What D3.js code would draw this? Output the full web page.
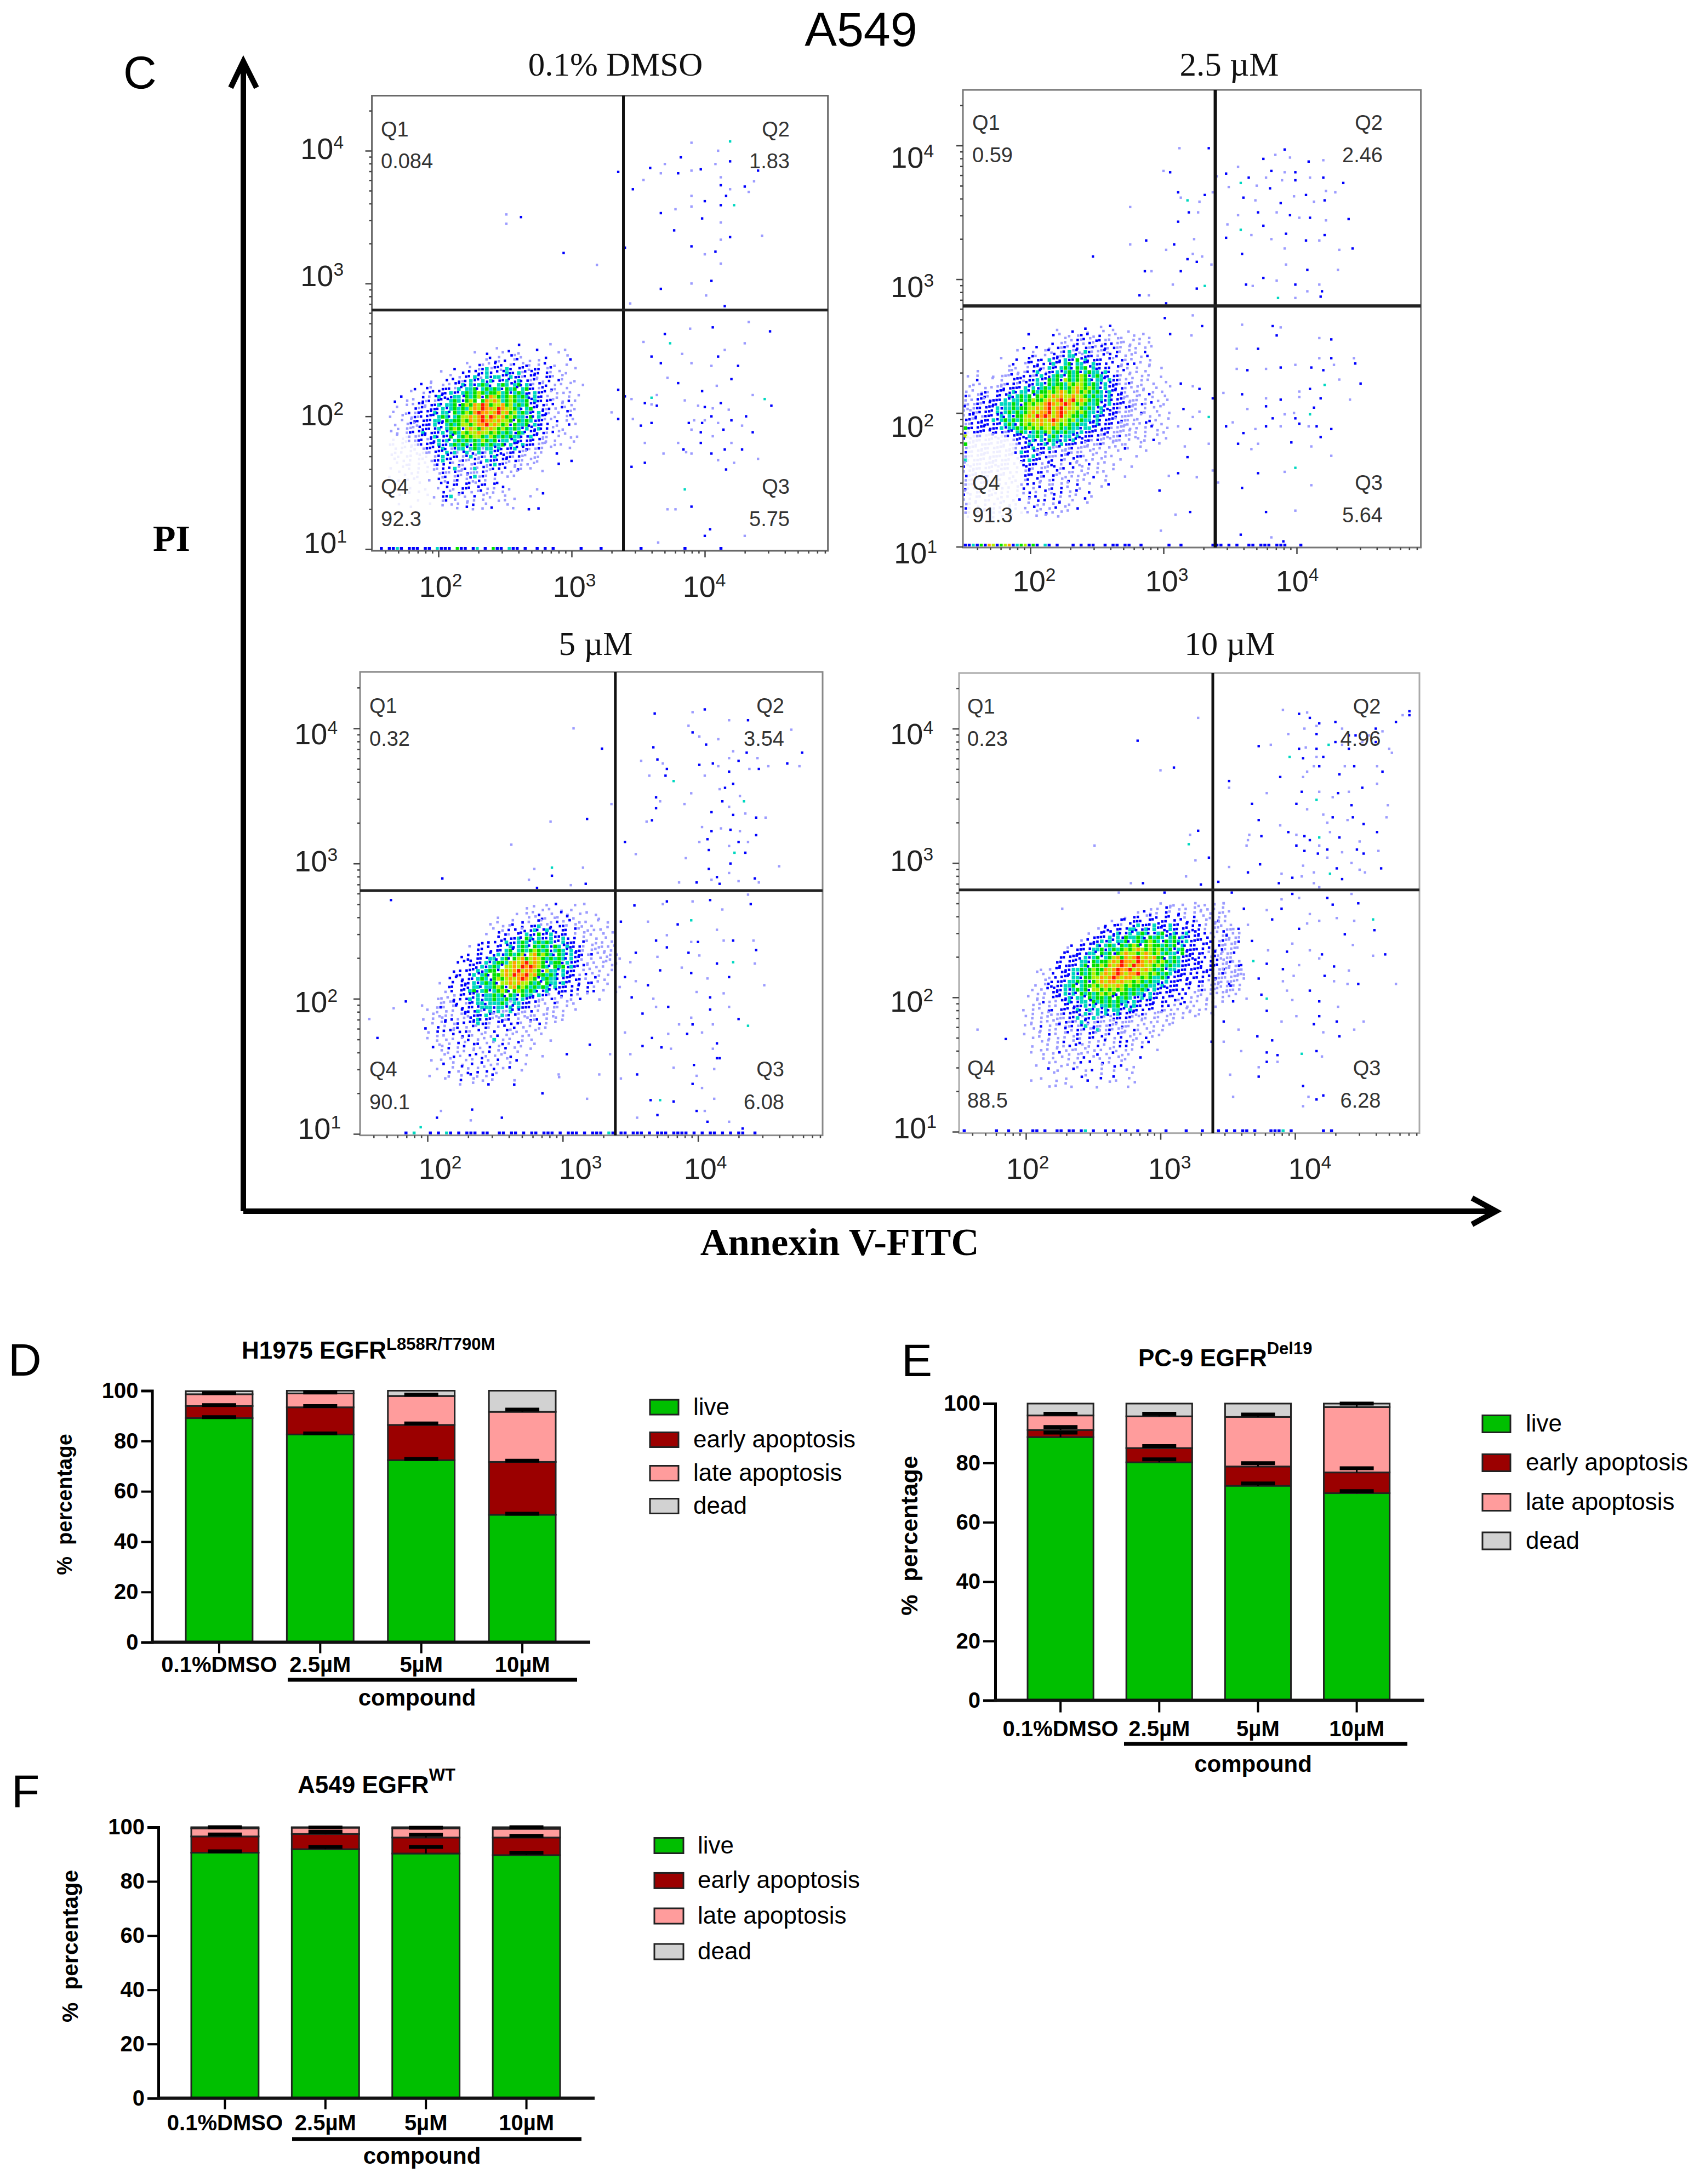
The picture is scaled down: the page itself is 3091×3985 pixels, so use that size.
<!DOCTYPE html>
<html lang="en">

<head>
    <meta charset="UTF-8">
    <title>A549 apoptosis</title>
    <style>
        body {
            margin: 0;
            background: #fff;
        }

        text {
            font-family: "Liberation Sans", Arial, sans-serif;
        }

        .serif {
            font-family: "Liberation Serif", "Times New Roman", serif;
        }
    </style>
</head>

<body>
    <svg id="fig" width="3091" height="3985"></svg>

    <script src="https://d3js.org/d3.v7.min.js"></script>
    <script>
        // ---- flow plots: values in log10 decades ----
        const gateAnnexin = 2449;
        const gatePI = 631;
        const quadNames = ["Q1", "Q2", "Q3", "Q4"];
        const flowTitles = ["0.1% DMSO", "2.5 µM", "5 µM", "10 µM"];
        const quadValues = [
            ["0.084", "1.83", "5.75", "92.3"],
            ["0.59", "2.46", "5.64", "91.3"],
            ["0.32", "3.54", "6.08", "90.1"],
            ["0.23", "4.96", "6.28", "88.5"]
        ];

        // density cells, one char per cell (. none, f faint, l pale, b blue, t teal, g green, y yellow, o orange, r red)
        const cellStep = 0.03;
        const gridStart = [[1.6, 2.55], [1.5, 2.65], [1.85, 2.7], [1.95, 2.7]];
        const gridA = [
            ".................................b.......l........",
            "............................l.........b......l....",
            "......................l..b...l.b.l.........l......",
            "..........................b.l..bl.l.....b....l....",
            ".........................l.bl.b.lb..l.l.......b...",
            "....................l..bl.lb.b.lb.lbl.l.b.l..l....",
            ".................b...l.lbtlbbltb.bb.lbb.lb.....l..",
            "..............l....b.bbbbtb.bbtbbtlbbbb.bl.l.l....",
            "................l.l.bbtbltbttbbtbblbbbl.bbl.l......",
            "...........l...b.bblbtbbtbtbbbtbbtbblbll.b.bl..l..",
            ".........b.l..l.lbbtbtbtgtb.tgtbtgbtblblb.l.l.l..l",
            ".......b..bl..bbbltbttgbtgtgtbgtgbtgbblb.bl..l....",
            "......l..l.bbbbbtbbtgtgygtggytgbtgtbbtbbbl.ll.l...",
            "....b....b.lbtbbbttbgtgybgoygtgygtgtbtbbl..l..l.l.",
            "..b..l.l.blblbbbtgtbgyg.goyoytgygttgbtbbbbl.l.bl..",
            ".....l.lbblbbtbttgbgygoyrogyyogytgtgbbbbl.b.l.l...",
            "...l...blblbbbtbtgtgtyoyrooyroyygtbtgbbblbl.bl.l..",
            "..l..lblbbbbtbttbgtgygorooyoryogytgtbbtbbl.l.bl...",
            ".l..l.lblbbbbtgtbtgyyoyoryroyogygttbgbtbb.l..lb...",
            "....l.lbbbbbttbgtggygoyorooyoyygbgtgtbbbll.b.l.l..",
            "..l..lbllbbbtbbtgtgyygyooryoygybgttgbtbbb..l..bl..",
            "...l.lllbbbbbtbtgygbyoygoyoygygtgtbtbbtbb.l.l.....",
            ".l.l.lbbbtbbbbtbtgtygyyoyygygtgtbgtbbbbbl.bl.l....",
            "...l.flllbbbtbbbgbtgygyygtygtgtgttbbtbbll..l..l.l.",
            "..f.ffllbblbbtbtbtgtgtgtygtgbttbtbbbbbbll.l....l..",
            ".ff.f.fflbbbbtbbtgtgtbgtgtgttgbtbbtbbblll.l.l.....",
            "..f.ffff.lbbbbtblbttbtgtlttbtbbbtbbbllbl.l....l...",
            "..f.f.f.ffllbbbtbtlbtlbtbltbbblbbbll.l.l...b......",
            ".f.f.ff.f.f.lbtb.bblbtllblbtbbbblbll.ll...........",
            "..f.f.f.ff.lbbtbb.lbllblltbbbbblbll.l.l.......b...",
            "...f.ff.f.f.lbb.blbl.lblblbtbbl.l.ll.l.....b......",
            ".f..f.f.f.f.llb.btllbltlbllbb.b.lbl.l.............",
            "...f..f.f.f..lbllbllblllbl.l.l.l.l.....l......",
            ".f...f..f.....lb.lbllbtlbl.b..l.l.............",
            "...f.f.f...l.b.l.lb.l.lb.l.l...................",
            "........f.....bb.bb.bbl.bb.bb..................",
            "...f..f...f..l.b.l.bbb.b.l.l.b.l......l.......",
            "......f.f.....b.l.bb.l.lbl.l.l.........b......",
            "...f......f.l.bbt.l.l.b.l.l...l.....l.........",
            "........f.....lb.l..l.l.l...l.l.l.............",
            "...f.......f..l.l.l.l.b..l....l...............",
            "......f...........l.b.l.l.b.....l...b.b......."
        ];
        const gridB = [
            "..............................b...l.b..............",
            ".......................l...b...l...l.l...l........",
            "................b.....b.l.l.lb.bl.b.l.l...l..l....",
            ".........................l.lblbl.bbll.ll..l.l.l...",
            "......................b.ll.lb.lbl.lb.bllll..l.l...",
            "...............b..b..l.blblbb.blblbblbll.l.l.l.l..",
            ".............l...l..lbl.lbtlbltblllbl.bl.l.l.b....",
            ".................bl.l.bblbttblbbbl.bb.b.l.l.l.b...",
            ".........l...b..b.bb.tbbbtbbgbtbbbb.bl.bl.l...l...",
            "............b..lbbb.bbtbbtgbttbbtbbb.b.l.bb.l.l...",
            "...........l.l..lbbbltbbtgtbgtgbtbbbb.bl.l.l..l..l",
            "...l.......lll.lbbtblbbtbtgtgbtgttbtb.l.bl.l.l....",
            ".l.l...l.lllbl.bblbtbbtgtbgtgygbtgtbbbbl.l..l.l..l.",
            "...b...l.l..bbblbbtbbgtgbygtgygtbttbtbbll.l.l.l....",
            "..l.l....llbblbbbbttbgtggtygyygtgtbtbbbllbl.l..l..l.",
            ".l...l.lllbbbbbtbtbtgtgygtgyoygygtbtbbbbl.ll.l..l...",
            "l.l.lbl.bbbbtbttbgtggygyoygyogygtgtbtbbbl.ll.l.l.l..",
            "bl.lbbl.bbbtbtgtgbgygyoyoyyoyygtgttbtbbbll.ll.bl..l.",
            "l.lbblbbbbtbttgtgyggyoyoryoryoygtgtbtbbbllll.l..l..l",
            "lllblbbbbtttgtbgygyyoroyoroygygttgbbtbbbblllbl.b..l.",
            "bllbbbbbtbttgtggyyoyoryoryoyygtgtbtbbbblbbll.l.l.l..",
            "llblbbbbtbtgtgtgyoyooryoroyygygttbtbbbbllll.bl..l..l",
            "lbbblbbbbtbtbggyoyroroyoryyggtgtbtbbbbbllll.l.l..l..",
            "bblbbbbtbtgtgtgyyoyoyoroyygytgttbtbbbblbllll..b.l..l",
            "llbbbbbbbbtgtbgygyyoyyoygygtgttbbtbbbbbllll.lb.l.l..",
            "gbbbbbbbbtbttgtgygygyygygtgttbttbbbbblllll.l.l.b...l",
            "bfbbbbbbbblbbtgtbtgtgytgtgttbtbbbbblblllll.l.l..l.l.",
            "yffllfflfflbbbbbttgtbtgtbttbtbbbbblblllbll.l.l..l...",
            "bffffffffffflbbbbtbtbgttbtbtbbbblbllllll.l.l.l.b..l.",
            "gfffffffffffflbbtbbbtbtbtbbbbbllllbl.l.ll...l....l..",
            "lfffffffffffflbbbtbbbtllbllblllll.l.l.l.bl..l.......",
            "bffffffffffffbtbbblbbblbllblll.l.l.l..l......l....",
            "lffffffffffff.bbbtblblllblb.bbl.l..l.l.....l......",
            "tfffffffffff.fbbtbbb.lb.bl.bl.l.l.l....l..........",
            "lffffffffffff.fbbbbl.bb.l.b.ll.b.l.l.l............",
            "bfffffffffff.f.bbl.lllb.lb.b.l.l.l...l....l.......",
            "lffffffff.ff.f.lb.bb.l.bl.ll.l.l.l.l..............",
            "bffffff.fff.f..bbb.lb.bl.l.ll.l.b..l....l.........",
            "lffff.ffff.f.f.lb.bl.lb.l.b.l.l....l..............",
            "lff.ffff.ff.f.l.bb.l.ll.l.l.b..l....b.............",
            "bff.ff.fff.f.f.b.l.b.lb.b.l..l....l...............",
            "lf.ff.f.ff.f.f.lb.l.b.l.b.l.b..b..................",
            "bf.ff.ff.f.f.f..b.b.l.b.l.l.l...l.................",
            "lf.f.ff.f.f.f.b.l.b.b.b.l..l..b...................",
            "lf.f.f.f.f.f.f..l.l.l.l.b.l....l..................",
            "bf.f.f.f.f.f.f.l.b.l.l.b.l..b.....................",
            "lf.f.f.f.f.f..f.l.l.b.l.l.l.......................",
            ".f..f..f.f..f.....l.l..l..........................."
        ];
        const gridC = [
            "...............................l..l.b....l.l......",
            ".............................l...l.l..l.l..........",
            "...........................l.l.lb..l..bl..l.l.l....",
            "......................l.......ll.bl.ll.b.l.....l...",
            "......................l...l.b.l.bl.l.bl.b.l.l..l.l.",
            "....................l..l.lb.b.bbtllb.bbl.l.l.l...l..",
            ".....................l.l.bb.lbbtbbtbb.bb.bl.l.ll....",
            "...................l..b.bl.bbtbbgbbtb.bb.l.l.l..l.l.",
            "......................b.bbbtbgtbtbbtbbtb.b.l..l..l..",
            "..................b.bb.btbbtgtbtgtgtbbtbbb.bl.l.l.l..",
            "...............l.b..b.bbbtbtgtbgtgtbgtbtbbbl.l.lll.l.",
            ".................bb.b.bbtgbtgtgygtgbtgtbtbbl.ll.l.l..",
            "...............b.bb.bbtbtgtgybyogygtbgtbtbbblb.ll.ll.",
            ".............b.b.bbbttbtgbgyogyoygtgtgtbtbbl.l.l.ll.l",
            "............b.bb.bbtbtggtyoyoryoygbtggbtbbb.l.l.ll.l.",
            "...............bbbtbtgtbyyoyroroygtbgtgbtbbbl.l.l.l..",
            "...........b.bbbbtbtggbyoyoryooygbyttbtbbb.l.l.l..l..",
            "............bb.btbtgbggyoyrooryoggtgtbtbbbl.bl.l.l...",
            "..........b.bb.bbtgtbgygyoyoroygbtgttbbbbbb.l.b.l....",
            "........l..b.bbbtbtgtgbyyoyoyygtgbgttbtbb.b.bb.l.l...",
            "..........bb.bbbttbttgygbyogygtgtgtbtbbbb.b.b.l.....l",
            ".........l.b.bbtgbtgbtgygbgygtgtbbtbbbbbb.b.b.b.l..l.",
            "...........l.bbbbtbttgtgbgtbgttbtbbl.bb.b.l.l........",
            ".......ll.lb.bbtbtbttgttgttbtbbbll.bl.l.l.b....l....",
            "........lllbb.lbbttbtttgtlttbbbbl.l.bl.l.l..........",
            ".......lbl.lbb.bbbtttbttbtbtbbbll.l.ll.l............",
            ".....l.l.l.l.bbbbtlbtbtlltbbllb.l.l.l.l..l..........",
            "......l.ll.l.lblbbbtblltlbbl.lll.ll.l.l.............",
            "....l.l.lb.bl.lbbtbbbllblb.l.lblb.l.l.l.............",
            "......l.lb.lb.bbbtbbl.bb.b.bl.l.b.l.l...............",
            "....b..b.l.lb.l.bl.bl.l.b.b.l.l.l.l.................",
            ".....l.b.bbl.bbl.b.l.b..bl.l.l.l....................",
            ".......l.l.b.b.bl.l.l.b.l.l.l.l..l..................",
            ".....l.l.l.l.l.b.l.l.t.l.l..l.l....l................",
            "........l.l.b.l.bb.l.l.b.l.b...l....................",
            "......b.l.b.l.b.l.l.b.l.b.l.l.l.....................",
            "........l.l.l.l.l.l.b.l.l..l........................",
            ".........l.b.l.b.b.l.l.l.b...l...l..................",
            "......l.l.l...l.l.b.l.b.l..b........................",
            ".........b.l.l..b.b.l.l..l...l......................",
            ".......l...l.b.l.l.l.b.l.b..........................",
            "..........b.l..b.b.b..l.....l.......................",
            ".....l....l..l.b.l.l.b...............l..............",
            ".........l...b..l.l..l....l.........................",
            ".............l..l...b.....b........................."
        ];
        const gridD = [
            "...................................l.ll.l..ll.l.l.l...",
            "................................l.l.bl.l.l.l.ll.l.l...",
            ".............................l.bl.l.bl.b.l.l.l.l.ll.l.",
            "..........................l.bb.lb.b.bb.b.l.b.l.l.l.l..",
            ".......................l.bb.bbb.bb.bb.b.bb.bl.l.ll.l..",
            ".....................b.bbl.bbtbbbtbbbtbb.b.bb.l.l.l.l.",
            "...................l.bb.bbbttbbtbtbbbtbbbb.bb.l.ll.lll.",
            ".................l..bbbbtbbtbtgtbbtgbbtbbtbbb.bl.lbl.ll",
            "..................bbbbtbtbgttgtbgtgtbtgbtbbbb.b.l.lblll",
            "...............l.bbbtbtbttgbtgtgygtbgtgtbtbbbb.b.lblllb",
            ".............b.bbbbtbtgtbgtgygbgyggtgtgbtbbb.bb.lbllll",
            "............l.bbbbttgbtgtgygyoygygygtgbtgbbbbb.bl.bllll",
            "...........bb.bbbttbgtgbgyoyygyoygytgttbgbbbbb.lb.lllb.",
            "..........bbbbbbtbtgbtgyogoyoryoyoggbtgtbbbbb.blbllll.",
            ".........bb.bbbttbgtggyoyrooyroyoygygtgtbbbbbb.b.bllbll.",
            "..........bbbbbtgbggygoyoroyrooyygygtgttbbbbbb.bbbllllb.",
            ".....l.l.bbbbttgtgyggoyorooryoyoygtgbttbbbbbbbbbllllllll",
            "....l.l.b.bbbtbgtgygyoyoroyooryygygtgtbbbbb.bbb.blblllll.",
            ".......l.bbbbttbggyyoyoroyooyygygttgtbbbbb.bbb.bblllllll",
            "......l.bbbbttgtgbgyoyooyoyygygtgttbtbbbbbb.bb.llllllll.",
            "....l.lbbbbttgbtggygyoyyoygyggtgttbtbbbb.bb.bl.lllllbll.",
            "...l.l.bbbbtbtgtgbyygygygygtgtgtbtbbbbbbb.b.lbllll.llll",
            "....l.l.bbbtbtbgtgtgygygbggtgttbtbbbbb.b.b.l.l.l.lll.l.",
            "..l.l.l.bbbbtbttbgtggtgbgtgtbbtbtbbb.bb.b.l.l.l.l.l.l..",
            "....l.bl.lbbtbbttbgtgtgtgttbtbbbbb.bb.bl.bl.l.l.l.l....",
            "...l.l.l.l.bbbbbtbtbttgtgbtbtbbbbb.b.bl.bl.l..l.l......",
            ".l.l.l.bb.bbbbtbbtbtbtbttbbtbbb.bb.bll.l.ll.l.l........",
            "...l.l.llllbbbbbtbltbtbbtbbbblbl.lll.ll.l.l.l..l.......",
            ".l.l.l.l.lllbbtlbbtlbllbbbbbllll.ll.l.l.l..l...........",
            "...l.l.ll.lblbltbblbllllbllll.l.l.l.l.l..............",
            ".l.l.b.l.lbllblbtlblllbllbll.l.l.l.l.l...............",
            "...l.l.l.l.b.lblblbtllbllll.bl.l.l.l.................",
            ".l...l.b.l.lb.bl.bbl.lb.bll.l.l.l.l..................",
            "...l.l.l.l.l.lbl.bb.bl.l.b.l.l.b.l...................",
            ".....l.l.l.b.l.b.l.l.b.l.bb.l.l.b....................",
            "...l...l.l.lb.bl.l.b.l.l.bb.l.b......................",
            ".....l.l.l.l.ll.l.l.l.l.l.l.l.....l..................",
            "...l..l.l.b.l.ll.l.b.l.b.l.l.........................",
            "......l.l.l.l.l.b.l.l.l.l.l...b......................",
            ".......l.l...l.b.b..b.l..l...........................",
            "....l.....l.l.l.....l..b.b..l........................",
            ".......b.l...b..l.b.l..l..l..........................",
            "........l.......l...l.......l.......................l",
            ".....l.....l...b....b..b...l..........................",
            "...l.....l.l.....b....l.l...l.........................",
            ".......l.l...l.....l.......l.........................."
        ];

        // events piled on the bottom edge, cells from log 1.5
        const edgeA = "..b.bbtb.bbb.bb.tbbb.gbb.bt.b.gbb.tbb.b..b.b.b......b....b.........b..........b........b.....";
        const edgeB = "bbtbgboybgyobtgybgb.tb.b...b.b.bb..b.bb.bb..b......b..b.......bbb.b.b..bb.bbb.bbb...b";
        const edgeC = "...........b.t...b.b.tb.b.bbb.bb..bb.bb.b.bb.bbb.b.bbb.b.bbb.tb.bb.bbb.b.bbb.bbbb.b.b.bb.b.b.bb..b";
        const edgeD = ".b.......b..b..b..bb.b..bb.bb.bt.b..b.b..b..b..b...b....b...b...b.b.b.bb.b...bbbt.b.......b.b";

        // scattered events [log annexin, log PI]
        const ptsA = [[2.51, 3.52], [2.62, 3.5], [2.51, 3.45], [2.94, 3.23], [3.19, 3.14], [3.35, 3.84], [3.9, 4.06], [4.19, 4.07], [4.1, 4], [3.82, 3.95], [3.7, 3.9], [3.59, 3.87], [3.54, 3.78], [3.46, 3.71], [3.67, 3.83], [3.8, 3.83], [3.9, 3.85], [3.97, 3.86], [4.08, 3.9], [4.19, 3.92], [4.12, 3.8], [4.12, 3.74], [4.19, 3.71], [4.3, 3.73], [4.33, 3.69], [4.4, 3.85], [4.37, 3.77], [4.16, 3.66], [3.9, 3.66], [4, 3.62], [4.22, 3.59], [4.12, 3.59], [3.9, 3.58], [3.67, 3.53], [3.78, 3.56], [3.98, 3.49], [4.12, 3.46], [3.77, 3.4], [4.12, 3.33], [4.19, 3.35], [4.43, 3.36], [3.9, 3.28], [4, 3.22], [4.08, 3.24], [4.12, 3.15], [4.05, 3.02], [3.9, 3], [3.67, 2.96], [4.01, 2.91], [4.15, 2.83], [3.44, 2.85], [3.4, 3.27], [3.54, 2.56], [3.74, 2.55], [3.89, 2.66], [4.06, 2.67], [4.33, 2.71], [4.49, 2.64], [3.83, 2.47], [3.67, 2.4], [4.05, 2.38], [4.25, 2.38], [3.72, 2.29], [3.98, 2.19], [4.09, 2.23], [4.2, 2.28], [4.36, 2.16], [3.55, 2.1], [3.6, 2.09], [3.64, 2.08], [3.95, 2.08], [4, 2.07], [4.06, 2.06], [4.12, 2.1], [4.18, 2.05], [4.31, 2], [4.45, 2.13], [4.5, 2.08], [3.46, 1.98], [3.52, 1.93], [3.9, 1.9], [3.97, 1.88], [4.06, 1.85], [4.14, 1.9], [4.2, 1.8], [3.97, 1.8], [3.86, 1.73], [4.15, 1.75], [4.22, 1.65], [4.16, 1.6], [3.69, 1.72], [3.45, 1.62], [3.72, 1.3], [3.9, 1.32], [3.78, 1.3], [4.04, 1.15], [3.65, 1.05], [3.4, 2.15], [3.45, 2.13], [3.6, 2.14], [3.64, 2.16], [3.8, 2.25], [3.85, 2.12], [3.88, 1.95], [3.92, 1.97], [3.98, 1.95], [4, 1.97], [4.05, 2], [4.1, 1.95], [4.2, 1.97], [4.28, 1.93], [4.36, 1.88], [3.55, 1.8], [3.6, 1.95], [3.8, 1.8], [3.84, 1.75], [3.9, 1.72], [4.05, 1.72], [4.1, 1.67], [4.28, 1.75], [4.4, 1.68], [3.55, 1.65], [3.85, 1.45], [4, 1.1], [4.3, 1.1], [3.6, 2.45], [3.9, 2.4], [4.1, 2.45], [4.3, 2.55], [3.7, 2.62], [4.15, 2.5], [3.35, 2.2], [3.3, 2.03], [3.35, 1.98]];
        const ptsB = [[3.12, 3.98], [3.34, 3.98], [3, 3.81], [3.05, 3.8], [2.75, 3.54], [3.11, 3.65], [3.13, 3.61], [3.18, 3.59], [3.27, 3.58], [3.31, 3.63], [3.37, 3.65], [3.19, 3.5], [3.26, 3.5], [3.11, 3.43], [2.75, 3.26], [2.87, 3.29], [3.02, 3.22], [3.08, 3.26], [3.23, 3.3], [2.47, 3.17], [3.22, 3.19], [3.18, 3.15], [3.29, 3.17], [3.25, 3.13], [3.36, 3.11], [2.86, 3.06], [2.91, 3.06], [3.13, 3.06], [3.07, 2.96], [3.25, 2.93], [3.31, 2.95], [2.82, 2.88], [2.89, 2.88], [3.02, 2.82], [3.56, 3.84], [3.47, 3.79], [3.4, 3.77], [3.75, 3.9], [3.84, 3.93], [3.91, 3.97], [3.95, 3.91], [4.09, 3.88], [4.2, 3.89], [3.81, 3.81], [3.91, 3.8], [3.99, 3.8], [3.89, 3.74], [3.64, 3.76], [3.77, 3.76], [3.99, 3.74], [4.1, 3.76], [4.2, 3.76], [3.49, 3.69], [3.58, 3.72], [3.7, 3.7], [3.8, 3.68], [3.98, 3.62], [4.07, 3.63], [4.22, 3.66], [4.35, 3.72], [4.29, 3.65], [3.6, 3.61], [3.69, 3.59], [3.88, 3.57], [4.13, 3.58], [4.21, 3.59], [3.56, 3.48], [3.71, 3.5], [3.85, 3.5], [3.95, 3.48], [4.02, 3.46], [4.1, 3.46], [4.22, 3.44], [4.39, 3.45], [3.48, 3.41], [3.75, 3.4], [3.58, 3.37], [3.92, 3.34], [3.66, 3.33], [3.47, 3.31], [3.81, 3.3], [4.07, 3.29], [4.17, 3.29], [4.21, 3.33], [3.91, 3.23], [4.42, 3.23], [4.32, 3.22], [3.59, 3.19], [3.92, 3.11], [4.08, 3.07], [4.31, 3.07], [3.75, 3.01], [3.85, 2.99], [3.62, 2.96], [3.67, 2.95], [3.99, 2.96], [4.17, 2.96], [4.19, 2.91], [4.08, 2.91], [3.86, 2.86], [3.99, 2.86], [4.18, 2.87], [3.59, 2.66], [3.82, 2.65], [3.88, 2.64], [3.85, 2.58], [4.17, 2.56], [4.26, 2.55], [3.55, 2.48], [3.71, 2.48], [4.17, 2.41], [4.26, 2.41], [4.43, 2.41], [4.44, 2.37], [3.55, 2.33], [3.63, 2.32], [3.77, 2.33], [3.88, 2.34], [3.99, 2.36], [4.11, 2.34], [4.28, 2.36], [4.2, 2.32], [4.21, 2.21], [4.48, 2.22], [3.45, 2.15], [3.59, 2.14], [3.77, 2.11], [3.88, 2.1], [4.02, 2.12], [4.18, 2.11], [4.4, 2.1], [4.13, 2.04], [3.98, 2], [3.77, 2.05], [3.63, 2.03], [3.82, 1.96], [4.09, 1.9], [4.26, 1.88], [3.91, 1.99], [3.56, 1.77], [3.66, 1.73], [3.96, 1.78], [4.11, 1.75], [4.18, 1.82], [4.26, 1.68], [3.99, 1.59], [3.91, 1.56], [3.71, 1.55], [3.41, 1.48], [3.59, 1.44], [4.11, 1.46], [3.77, 1.26], [3.99, 1.27], [3.58, 1.09], [3.81, 1.07], [3.9, 1.04], [3.69, 1.88], [3.77, 1.9], [3.88, 1.9], [4.02, 1.92], [4.02, 2.16], [4.1, 2.18], [4.32, 2.25], [3.47, 1.9], [3.52, 1.93], [3.6, 1.85], [3.71, 1.77], [3.99, 1.96], [4.1, 1.99], [4.15, 1.9], [3.05, 2.2], [3.13, 2.22], [3.22, 2.2], [3.27, 2.18], [3.22, 1.97], [3.2, 1.88], [3.16, 1.75], [3.18, 1.67], [3.25, 1.52], [3.11, 1.55], [3.04, 1.53], [2.97, 1.42], [3.09, 1.24], [3.2, 1.26], [2.98, 1.12], [3.29, 2.65], [3.21, 2.58], [3.05, 2.59], [3.22, 2.73], [3.01, 2.71], [3.11, 1.9], [3.34, 1.97], [3.34, 1.77], [3.15, 2.03], [3.27, 2.01], [3.37, 2.11], [3.37, 1.57]];
        const ptsC = [[3.08, 4], [3.29, 3.85], [2.91, 3.31], [3.18, 3.33], [2.62, 3.14], [2.11, 2.89], [2.79, 2.96], [2.92, 2.97], [3.15, 2.97], [2.92, 2.91], [2.75, 2.88], [2.81, 2.82], [3.06, 2.84], [3.17, 2.85], [3.36, 3.44], [3.68, 4.11], [3.96, 4.12], [4.05, 4.14], [3.93, 4.02], [3.96, 3.97], [4.01, 3.94], [4.06, 3.88], [4.15, 3.92], [3.67, 3.86], [3.58, 3.76], [3.7, 3.77], [3.74, 3.74], [3.77, 3.7], [3.64, 3.65], [3.76, 3.65], [3.82, 3.61], [4.01, 3.73], [4.05, 3.65], [4.11, 3.74], [4.15, 3.72], [4.23, 3.68], [4.38, 3.7], [4.45, 3.7], [4.52, 3.72], [4.66, 3.74], [4.75, 3.72], [4.77, 3.82], [4.69, 3.99], [4.26, 3.59], [4.16, 3.55], [4.2, 3.56], [3.95, 3.52], [3.69, 3.49], [3.72, 3.46], [3.69, 3.41], [3.9, 3.44], [4.18, 3.46], [4.31, 3.5], [4.34, 3.46], [4.23, 3.42], [4.1, 3.38], [4.35, 3.37], [4.43, 3.34], [4.5, 3.34], [4.26, 3.36], [3.62, 3.31], [3.66, 3.32], [4.03, 3.27], [4.1, 3.24], [4.17, 3.26], [4.24, 3.25], [4.31, 3.24], [4.43, 3.21], [4.01, 3.16], [4.07, 3.18], [4.23, 3.13], [4.3, 3.16], [4.37, 3.16], [3.46, 3.16], [3.54, 3.07], [4.08, 3.1], [4.27, 3.08], [4.35, 3.08], [3.91, 3.04], [4.24, 3], [4.6, 2.98], [4.08, 2.96], [4.23, 2.93], [4.14, 2.9], [4.3, 2.87], [4.42, 2.89], [3.86, 2.86], [3.99, 2.86], [4.1, 2.88], [4.16, 2.85], [4.45, 2.86], [3.53, 2.69], [3.74, 2.7], [3.77, 2.72], [3.96, 2.72], [4.09, 2.73], [4.18, 2.66], [4.39, 2.7], [4.37, 2.77], [3.95, 2.58], [3.63, 2.57], [3.85, 2.55], [4.14, 2.51], [3.43, 2.57], [3.77, 2.47], [3.69, 2.43], [3.95, 2.42], [4, 2.42], [4.19, 2.43], [4.26, 2.43], [4.41, 2.43], [3.77, 2.38], [3.7, 2.31], [3.93, 2.34], [4.01, 2.32], [4.43, 2.36], [4.42, 2.26], [3.54, 2.34], [3.5, 2.27], [3.72, 2.21], [3.88, 2.23], [4.14, 2.26], [4.26, 2.27], [3.46, 2.16], [3.54, 2.13], [3.95, 2.19], [4.07, 2.15], [4.23, 2.16], [4.49, 2.1], [3.63, 2.1], [3.99, 2.05], [3.51, 2.01], [3.67, 2], [4.09, 2.01], [4.19, 2.04], [3.78, 1.94], [3.69, 1.94], [4.09, 1.92], [4.23, 1.94], [3.59, 1.89], [3.95, 1.86], [4.3, 1.85], [3.86, 1.81], [3.96, 1.81], [4.11, 1.81], [4.37, 1.8], [3.46, 1.75], [3.66, 1.71], [3.78, 1.74], [3.92, 1.74], [4.03, 1.75], [3.73, 1.64], [3.8, 1.63], [4.14, 1.67], [4.11, 1.63], [3.59, 1.65], [3.5, 1.59], [4.14, 1.56], [3.82, 1.49], [3.97, 1.51], [4.12, 1.48], [4.16, 1.56], [3.43, 1.41], [3.55, 1.44], [3.99, 1.43], [3.96, 1.37], [4.03, 1.34], [3.65, 1.25], [3.72, 1.25], [3.82, 1.24], [4.12, 1.26], [3.99, 1.17], [4.05, 1.17], [3.7, 1.14], [3.55, 1.12], [4.07, 1.09], [4.23, 1.09], [4.33, 1.04], [4.23, 4.06], [4.37, 4.06], [4.26, 3.83], [4.36, 3.82], [4.23, 3.78], [4.3, 3.76], [4.44, 3.78], [1.73, 2.73], [1.57, 1.85], [1.63, 1.71], [1.75, 1.93], [1.84, 1.98], [1.96, 1.95], [1.95, 1.05], [2.32, 1.1], [2.55, 1.12], [3.18, 1.26], [2.07, 1.12], [2.1, 1.17], [2.33, 1.18], [3.27, 1.44], [3.2, 1.66], [3.35, 1.59], [3.03, 1.59], [2.97, 1.44], [2.85, 1.3]];
        const ptsD = [[3.28, 4.08], [2.83, 3.91], [3, 3.69], [3.1, 3.71], [2.51, 3.13], [3.28, 3.24], [3.22, 3.21], [3.21, 3.14], [3.26, 3.02], [3.36, 3.04], [3.19, 2.9], [3.3, 2.84], [2.78, 2.85], [2.87, 2.85], [2.69, 2.78], [3.03, 2.78], [3.91, 4.14], [4.03, 4.11], [4.09, 4.12], [4.11, 4.08], [4.16, 4.02], [4.18, 4.04], [4.07, 4], [4.16, 3.96], [3.95, 3.96], [3.73, 3.87], [3.82, 3.88], [4.03, 3.85], [4.08, 3.86], [4.16, 3.85], [3.96, 3.79], [4.06, 3.78], [4.16, 3.79], [4.21, 3.79], [4.14, 3.72], [4.18, 3.72], [4.09, 3.68], [3.89, 3.64], [4.06, 3.64], [4.33, 3.66], [4.37, 3.72], [4.44, 3.72], [4.61, 3.72], [4.65, 3.68], [4.61, 3.59], [4.5, 3.56], [4.4, 3.53], [4.32, 3.52], [4.18, 3.53], [4.05, 3.53], [3.79, 3.52], [3.51, 3.61], [3.51, 3.56], [4.16, 3.47], [4.28, 3.49], [4.42, 3.43], [4.69, 3.43], [4.01, 3.44], [4.09, 3.4], [3.68, 3.44], [4.21, 3.36], [4.28, 3.34], [4.39, 3.32], [4.43, 3.34], [4.68, 3.34], [3.73, 3.32], [4.24, 3.3], [4.51, 3.29], [3.89, 3.28], [3.95, 3.23], [4.26, 3.23], [4.61, 3.23], [3.66, 3.21], [3.75, 3.2], [4.01, 3.21], [4.07, 3.2], [4.18, 3.19], [4.33, 3.19], [3.65, 3.17], [4.11, 3.17], [4.48, 3.16], [4.01, 3.13], [4.18, 3.13], [4.24, 3.1], [4.35, 3.08], [4.46, 3.1], [4.62, 3.09], [4.07, 3.09], [3.64, 3.13], [4.17, 3.07], [4.24, 3.04], [4.51, 3.07], [3.51, 2.97], [3.74, 2.99], [4.06, 2.98], [4.31, 2.96], [4.42, 3], [3.65, 2.93], [4.14, 2.93], [4.26, 2.92], [4.48, 2.95], [4.64, 2.96], [4.52, 2.93], [3.43, 2.86], [3.9, 2.92], [3.98, 2.89], [4.05, 2.9], [3.88, 2.85], [4.14, 2.85], [4.35, 2.88], [4.18, 2.82], [4.3, 4.05], [4.35, 4], [4.4, 3.95], [4.5, 3.9], [4.45, 3.95], [4.55, 3.95], [4.6, 4], [4.65, 3.98], [4.3, 3.9], [4.35, 3.88], [4.4, 3.85], [4.25, 3.88], [4.6, 3.9], [4.7, 3.85], [4.75, 4.05], [4.8, 4.1], [4.85, 4.1], [4.72, 3.82], [4.85, 4.13], [4.97, 4.08], [3.53, 2.78], [3.9, 2.73], [3.98, 2.77], [4.03, 2.74], [4.24, 2.74], [4.42, 2.77], [4.47, 2.7], [3.47, 2.7], [3.62, 2.66], [3.79, 2.65], [3.9, 2.66], [4.11, 2.62], [4.28, 2.69], [4.31, 2.59], [4.58, 2.58], [4.44, 2.57], [3.43, 2.57], [3.65, 2.54], [3.83, 2.58], [4.18, 2.57], [4.37, 2.47], [4.09, 2.55], [3.58, 2.51], [3.98, 2.4], [4.03, 2.51], [4.43, 2.39], [4.59, 2.5], [3.46, 2.34], [3.68, 2.42], [3.8, 2.35], [3.94, 2.34], [4.11, 2.35], [4.2, 2.32], [4.58, 2.31], [4.67, 2.32], [3.53, 2.27], [3.6, 2.24], [3.69, 2.27], [3.79, 2.25], [4.18, 2.29], [3.91, 2.21], [4.03, 2.24], [4.29, 2.23], [4.4, 2.2], [3.47, 2.21], [3.62, 2.17], [3.73, 2.14], [3.99, 2.16], [4.22, 2.16], [4.39, 2.1], [4.47, 2.1], [4.75, 2.1], [3.51, 2.1], [3.91, 2.12], [3.75, 2.02], [3.94, 2.05], [4.11, 2.05], [4.29, 2.12], [3.54, 1.97], [3.64, 1.99], [3.79, 1.99], [3.98, 1.98], [4.18, 1.97], [4.32, 1.93], [3.79, 1.9], [4.01, 1.86], [4.18, 1.86], [3.9, 1.82], [4.14, 1.8], [4.51, 1.82], [4.31, 1.82], [3.39, 1.87], [3.47, 1.82], [3.58, 1.76], [3.72, 1.71], [4.21, 1.74], [4.33, 1.71], [4.44, 1.76], [3.83, 1.68], [3.47, 1.67], [3.38, 1.67], [3.6, 1.6], [3.79, 1.59], [4.05, 1.58], [4.16, 1.6], [4.2, 1.56], [3.87, 1.57], [3.87, 1.52], [3.79, 1.52], [3.73, 1.48], [3.73, 1.41], [3.54, 1.26], [4.06, 1.34], [4.1, 1.26], [4.21, 1.27], [4.06, 1.19], [4.16, 1.24], [1.64, 1.76], [1.85, 1.69], [2.27, 2.66]];

        // ---- stacked bars ----
        const doses = ["0.1%DMSO", "2.5µM", "5µM", "10µM"];
        const stages = ["live", "early apoptosis", "late apoptosis", "dead"];
        const pctTicks = [0, 20, 40, 60, 80, 100];

        const h1975Live = [89.1, 82.6, 72.4, 50.7];
        const h1975Early = [4.8, 10.8, 14.0, 21.0];
        const h1975Late = [4.7, 5.5, 11.5, 19.9];
        const h1975Dead = [1.2, 1.1, 2.1, 8.4];
        const h1975Err = [[0.4, 0.4, 0.5, 0.4], [0.4, 0.5, 0.6, 0.5], [0.4, 0.4, 0.5, 0.9]];

        const pc9Live = [88.7, 80.2, 72.3, 69.8];
        const pc9Early = [2.4, 4.8, 6.5, 7.0];
        const pc9Late = [4.9, 10.7, 16.7, 22.0];
        const pc9Dead = [4.0, 4.3, 4.5, 1.2];
        const pc9Err = [[1.5, 1.0, 0.8, 0.7], [1.0, 0.7, 1.1, 1.4], [0.6, 0.9, 0.8, 1.2]];

        const a549Live = [90.6, 91.9, 90.3, 89.7];
        const a549Early = [6.0, 5.6, 5.9, 6.5];
        const a549Late = [3.0, 2.3, 3.4, 3.2];
        const a549Dead = [0.4, 0.2, 0.4, 0.6];
        const a549Err = [[0.5, 0.8, 2.4, 0.9], [0.7, 0.8, 1.0, 0.6], [0.4, 0.1, 0.2, 0.6]];

        const svg = d3.select("#fig");

        const cellColor = { f: "#eeeeff", l: "#9c9cff", b: "#0000ff", t: "#00d8c0", g: "#00e000", y: "#b0f000", o: "#ffa000", r: "#ff1800" };
        const tickDecades = [10, 100, 1000, 10000];
        const speck = [-2, 1.5, -0.5, 2.5, 0.5, -2.5, 1];

        // layout of the four flow plots
        const flowLayout = [
            {
                box: [678.6, 1510.7, 174.6, 1005], x: [800, 1286], y: [1002, 275], titleX: 1123, titleY: 138, grid: gridA, edge: edgeA, pts: ptsA,
                ylabRight: 627, ylabY: [1009, 776, 522, 290], xlabX: [804, 1048, 1285], xlabY: 1089, q: [695, 1441, 249, 307, 901, 960], boxColor: "#666", lineW: 5
            },
            {
                box: [1757, 2592.6, 164, 999], x: [1880, 2366], y: [997.6, 265.5], titleX: 2243, titleY: 138, grid: gridB, edge: edgeB, pts: ptsB,
                ylabRight: 1704, ylabY: [1028, 797, 542, 306], xlabX: [1887, 2129, 2367], xlabY: 1079, q: [1774, 2523, 237, 296, 894, 953], boxColor: "#777", lineW: 6
            },
            {
                box: [657, 1501, 1226, 2071.6], x: [780, 1273.6], y: [2069, 1329], titleX: 1087, titleY: 1195, grid: gridC, edge: edgeC, pts: ptsC,
                ylabRight: 616, ylabY: [2078, 1847, 1590, 1358], xlabX: [803, 1059, 1287], xlabY: 2151, q: [674, 1431, 1301, 1361, 1964, 2024], boxColor: "#888", lineW: 5
            },
            {
                box: [1750, 2590, 1228, 2067.6], x: [1872, 2363], y: [2065, 1329.5], titleX: 2244, titleY: 1195, grid: gridD, edge: edgeD, pts: ptsD,
                ylabRight: 1703, ylabY: [2077, 1846, 1589, 1358], xlabX: [1875, 2134, 2390], xlabY: 2151, q: [1765, 2519.5, 1302, 1361, 1962, 2021], boxColor: "#aaa", lineW: 5
            }
        ];

        function powerLabel(g, x, y, anchor, exp, size) {
            const t = g.append("text").attr("x", x).attr("y", y).attr("text-anchor", anchor)
                .attr("font-size", size).attr("fill", "#222");
            t.append("tspan").text("10");
            t.append("tspan").attr("dy", -size * 0.36).attr("font-size", size * 0.62).text(exp);
        }

        flowLayout.forEach((p, idx) => {
            const g = svg.append("g");
            const xScale = d3.scaleLog().domain([100, 10000]).range(p.x);
            const yScale = d3.scaleLog().domain([10, 10000]).range(p.y);
            const clipId = "clip" + idx;
            svg.append("clipPath").attr("id", clipId).append("rect")
                .attr("x", p.box[0]).attr("y", p.box[2])
                .attr("width", p.box[1] - p.box[0]).attr("height", p.box[3] - p.box[2]);
            const marks = g.append("g").attr("clip-path", "url(#" + clipId + ")");

            // scattered events
            marks.selectAll(".pt").data(p.pts).enter().append("rect")
                .attr("x", d => xScale(10 ** d[0]) - 2.2)
                .attr("y", d => yScale(10 ** d[1]) - 2.2)
                .attr("width", 4.4).attr("height", 4.4)
                .attr("fill", (d, i) => i % 23 === 7 ? "#00d8c0" : (i % 2 ? "#0000ff" : "#9c9cff"));

            // density cells, the speck offsets only break up the lattice
            const cells = [];
            p.grid.forEach((row, r) => {
                row.split("").forEach((c, i) => {
                    if (c !== "." && c !== " ") {
                        cells.push({
                            lx: gridStart[idx][0] + i * cellStep, ly: gridStart[idx][1] - r * cellStep, c: c,
                            dx: speck[(i * 3 + r * 5) % speck.length], dy: speck[(i * 5 + r * 2) % speck.length]
                        });
                    }
                });
            });
            const sparse = c => "flb".includes(c);
            marks.selectAll(".cell").data(cells).enter().append("rect")
                .attr("x", d => xScale(10 ** d.lx) + (sparse(d.c) ? d.dx : 0))
                .attr("y", d => yScale(10 ** d.ly) + (sparse(d.c) ? d.dy : 0))
                .attr("width", d => (xScale(10 ** (d.lx + cellStep)) - xScale(10 ** d.lx)) * (sparse(d.c) ? 0.62 : 0.9))
                .attr("height", d => (yScale(10 ** (d.ly - cellStep)) - yScale(10 ** d.ly)) * (sparse(d.c) ? 0.62 : 0.9))
                .attr("fill", d => cellColor[d.c]);

            // bottom edge events
            const edgeCells = p.edge.split("").map((c, i) => ({ lx: 1.5 + i * cellStep, c: c })).filter(d => d.c !== ".");
            marks.selectAll(".edge").data(edgeCells).enter().append("rect")
                .attr("x", d => xScale(10 ** d.lx))
                .attr("y", p.box[3] - 7)
                .attr("width", 5.5).attr("height", 5)
                .attr("fill", d => cellColor[d.c]);

            // frame and gates
            g.append("rect").attr("x", p.box[0]).attr("y", p.box[2])
                .attr("width", p.box[1] - p.box[0]).attr("height", p.box[3] - p.box[2])
                .attr("fill", "none").attr("stroke", p.boxColor).attr("stroke-width", 3);
            g.append("line").attr("x1", xScale(gateAnnexin)).attr("x2", xScale(gateAnnexin))
                .attr("y1", p.box[2]).attr("y2", p.box[3])
                .attr("stroke", "#111").attr("stroke-width", p.lineW);
            g.append("line").attr("x1", p.box[0]).attr("x2", p.box[1])
                .attr("y1", yScale(gatePI)).attr("y2", yScale(gatePI))
                .attr("stroke", "#222").attr("stroke-width", p.lineW);

            // log ticks
            const xMinor = d3.range(2, 10).flatMap(m => [10, 100, 1000, 10000].map(d => m * d))
                .filter(v => xScale(v) > p.box[0] && xScale(v) < p.box[1]);
            const yMinor = d3.range(2, 10).flatMap(m => [10, 100, 1000, 10000].map(d => m * d))
                .filter(v => yScale(v) > p.box[2] && yScale(v) < p.box[3]);
            const styleAxis = a => {
                a.select(".domain").remove();
                a.selectAll("text").remove();
                a.selectAll("line").attr("stroke", "#444").attr("stroke-width", 2.5);
            };
            g.append("g").attr("transform", "translate(0," + p.box[3] + ")")
                .call(d3.axisBottom(xScale).tickValues([100, 1000, 10000]).tickSize(12)).call(styleAxis);
            g.append("g").attr("transform", "translate(0," + p.box[3] + ")")
                .call(d3.axisBottom(xScale).tickValues(xMinor).tickSize(5)).call(styleAxis);
            g.append("g").attr("transform", "translate(" + p.box[0] + ",0)")
                .call(d3.axisLeft(yScale).tickValues(tickDecades).tickSize(12)).call(styleAxis);
            g.append("g").attr("transform", "translate(" + p.box[0] + ",0)")
                .call(d3.axisLeft(yScale).tickValues(yMinor).tickSize(5)).call(styleAxis);

            // tick labels
            tickDecades.forEach((d, i) => {
                powerLabel(g, p.ylabRight + (i === 0 ? 6 : 0), p.ylabY[i], "end", String(i + 1), 54);
            });
            p.xlabX.forEach((x, i) => {
                powerLabel(g, x, p.xlabY, "middle", String(i + 2), 54);
            });

            g.append("text").attr("class", "serif").attr("x", p.titleX).attr("y", p.titleY)
                .attr("text-anchor", "middle").attr("font-size", 61).attr("fill", "#111")
                .text(flowTitles[idx]);

            // quadrant labels
            const qPos = [[p.q[0], p.q[2], p.q[3], "start"], [p.q[1], p.q[2], p.q[3], "end"], [p.q[1], p.q[4], p.q[5], "end"], [p.q[0], p.q[4], p.q[5], "start"]];
            qPos.forEach((q, i) => {
                g.append("text").attr("x", q[0]).attr("y", q[1]).attr("text-anchor", q[3])
                    .attr("font-size", 38).attr("fill", "#333").text(quadNames[i]);
                g.append("text").attr("x", q[0]).attr("y", q[2]).attr("text-anchor", q[3])
                    .attr("font-size", 38).attr("fill", "#333").text(quadValues[idx][i]);
            });
        });

        // big axes of the flow panel
        svg.append("path").attr("d", "M444,2210V114M421,160L444,112L468,160M444,2210H2728M2686,2186L2730,2210L2686,2234")
            .attr("fill", "none").attr("stroke", "#000").attr("stroke-width", 10);

        const addText = (x, y, txt, size, opt = {}) => svg.append("text").attr("x", x).attr("y", y)
            .attr("text-anchor", opt.anchor || "start").attr("font-size", size)
            .attr("font-weight", opt.bold ? "bold" : "normal").attr("fill", "#000")
            .attr("class", opt.serif ? "serif" : null).text(txt);

        addText(1571, 84, "A549", 88, { anchor: "middle" });
        addText(225, 161, "C", 84);
        addText(15, 2510, "D", 84);
        addText(1645, 2511, "E", 84);
        addText(21, 3297, "F", 84);
        addText(313, 1005, "PI", 68, { anchor: "middle", bold: true, serif: true });
        addText(1532, 2290, "Annexin V-FITC", 70.5, { anchor: "middle", bold: true, serif: true });

        const stageColor = ["#00bf00", "#9b0000", "#ff9c9c", "#d2d2d2"];

        const barLayout = [
            {
                series: [h1975Live, h1975Early, h1975Late, h1975Dead], err: h1975Err,
                axisX: 277.6, y0: 2996.6, y100: 2537.5, bars: [339, 1014], inner: 0.339, xEnd: 1077, tick: 20, font: 40,
                labY: 3051, under: [525, 1053, 3065], comp: [761, 3112, 42],
                title: ["H1975 EGFR", "L858R/T790M", 441, 2479, 2463, 44, 31],
                ylab: [118, 2745, 38], legX: [1186, 1238, 1265], legY: [2567.6, 2627, 2688, 2748], legH: 27
            },
            {
                series: [pc9Live, pc9Early, pc9Late, pc9Dead], err: pc9Err,
                axisX: 1816, y0: 3102.5, y100: 2561, bars: [1875, 2535.7], inner: 0.333, xEnd: 2598.5, tick: 22, font: 40,
                labY: 3168, under: [2051, 2568, 3182], comp: [2286.6, 3233, 42],
                title: ["PC-9 EGFR", "Del19", 2077, 2492.6, 2470.6, 44, 31],
                ylab: [1659, 2802, 43], legX: [2705, 2756, 2784], legY: [2598, 2669, 2741, 2811.5], legH: 31
            },
            {
                series: [a549Live, a549Early, a549Late, a549Dead], err: a549Err,
                axisX: 289, y0: 3828.5, y100: 3334, bars: [349, 1022], inner: 0.33, xEnd: 1085, tick: 20, font: 40,
                labY: 3887, under: [533, 1061, 3903], comp: [770, 3948, 42],
                title: ["A549 EGFR", "WT", 543, 3272, 3249, 44, 31],
                ylab: [128, 3551, 41], legX: [1194, 1247, 1273], legY: [3367.5, 3431.4, 3496, 3561], legH: 28
            }
        ];

        barLayout.forEach(b => {
            const g = svg.append("g");
            const x = d3.scaleBand().domain(doses).range(b.bars).paddingInner(b.inner).paddingOuter(0);
            const y = d3.scaleLinear().domain([0, 100]).range([b.y0, b.y100]);
            const rows = doses.map((d, i) => {
                const row = { dose: d };
                stages.forEach((s, k) => { row[s] = b.series[k][i]; });
                return row;
            });
            const stacked = d3.stack().keys(stages)(rows);

            stacked.forEach((layer, k) => {
                g.selectAll(".seg" + k).data(layer).enter().append("rect")
                    .attr("x", d => x(d.data.dose))
                    .attr("y", d => y(d[1]))
                    .attr("width", x.bandwidth())
                    .attr("height", d => y(d[0]) - y(d[1]))
                    .attr("fill", stageColor[k])
                    .attr("stroke", "#222").attr("stroke-width", 3);
            });

            // error bars on the first three layers
            stacked.slice(0, 3).forEach((layer, k) => {
                layer.forEach((d, i) => {
                    const cx = x(d.data.dose) + x.bandwidth() / 2;
                    const top = y(d[1] + b.err[k][i]);
                    g.append("line").attr("x1", cx).attr("x2", cx).attr("y1", y(d[1])).attr("y2", top)
                        .attr("stroke", "#000").attr("stroke-width", 3);
                    g.append("line").attr("x1", cx - 31).attr("x2", cx + 31).attr("y1", top).attr("y2", top)
                        .attr("stroke", "#000").attr("stroke-width", 7);
                });
            });

            // axes
            const yAxis = d3.axisLeft(y).tickValues(pctTicks).tickSize(b.tick).tickPadding(5);
            g.append("g").attr("transform", "translate(" + b.axisX + ",0)").call(yAxis)
                .call(a => {
                    a.select(".domain").attr("stroke", "#000").attr("stroke-width", 5);
                    a.selectAll("line").attr("stroke", "#000").attr("stroke-width", 4);
                    a.selectAll("text").attr("font-size", b.font).attr("font-weight", "bold").attr("fill", "#000");
                });
            const xAxis = d3.axisBottom(x).tickSize(b.tick).tickPadding(0);
            g.append("g").attr("transform", "translate(0," + b.y0 + ")").call(xAxis)
                .call(a => {
                    a.select(".domain").remove();
                    a.selectAll("line").attr("stroke", "#000").attr("stroke-width", 4);
                    a.selectAll("text").attr("font-size", b.font).attr("font-weight", "bold").attr("fill", "#000")
                        .attr("dy", null).attr("y", b.labY - b.y0);
                });
            g.append("line").attr("x1", b.axisX - 2.5).attr("x2", b.xEnd).attr("y1", b.y0).attr("y2", b.y0)
                .attr("stroke", "#111").attr("stroke-width", 6);

            // dose bracket
            g.append("line").attr("x1", b.under[0]).attr("x2", b.under[1]).attr("y1", b.under[2]).attr("y2", b.under[2])
                .attr("stroke", "#000").attr("stroke-width", 7);
            addText(b.comp[0], b.comp[1], "compound", b.comp[2], { anchor: "middle", bold: true });

            // title with superscript
            const title = addText(b.title[2], b.title[3], b.title[0], b.title[5], { bold: true });
            title.append("tspan").attr("dy", b.title[4] - b.title[3]).attr("font-size", b.title[6]).text(b.title[1]);

            svg.append("text").attr("transform", "translate(" + b.ylab[0] + "," + b.ylab[1] + ") rotate(-90)")
                .attr("text-anchor", "middle").attr("font-size", b.ylab[2]).attr("font-weight", "bold")
                .attr("dy", "0.35em").attr("xml:space", "preserve").text("%  percentage");

            // legend
            stages.forEach((s, k) => {
                const cy = b.legY[k];
                g.append("rect").attr("x", b.legX[0]).attr("y", cy - b.legH / 2)
                    .attr("width", b.legX[1] - b.legX[0]).attr("height", b.legH)
                    .attr("fill", stageColor[k]).attr("stroke", "#222").attr("stroke-width", 3);
                addText(b.legX[2], cy + 14, s, 44);
            });
        });
    </script>
</body>

</html>
